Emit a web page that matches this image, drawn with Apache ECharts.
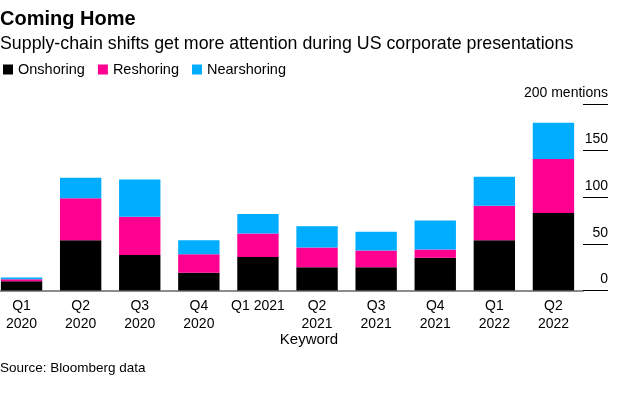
<!DOCTYPE html>
<html>
<head>
<meta charset="utf-8">
<script src="https://cdn.jsdelivr.net/npm/echarts@6/dist/echarts.min.js"></script>
<style>
  html, body { margin: 0; padding: 0; background: #fff; }
  #chart { width: 620px; height: 398px; }
</style>
</head>
<body>
<div id="chart"></div>
<script>
// quarters (label text, two lines except Q1 2021)
const quarters = ["Q1\n2020", "Q2\n2020", "Q3\n2020", "Q4\n2020", "Q1 2021",
  "Q2\n2021", "Q3\n2021", "Q4\n2021", "Q1\n2022", "Q2\n2022"];
// mentions per keyword
const onshoring = [10, 54, 38, 19, 36, 25, 25, 35, 54, 83];
const reshoring = [2, 45, 41, 20, 25, 21, 18, 9, 37, 58];
const nearshoring = [2, 22, 40, 15, 21, 23, 20, 31, 31, 39];
const yTicks = [0, 50, 100, 150, 200];

const font = "Liberation Sans";
const colors = { Onshoring: "#000000", Reshoring: "#ff0090", Nearshoring: "#00adff" };

let myChart = echarts.init(document.getElementById("chart"));

function bar(name, data) {
  return {
    name: name,
    type: "bar",
    stack: "total",
    data: data,
    barCategoryGap: "30%",
    itemStyle: { color: colors[name] },
    emphasis: { disabled: true },
  };
}

function txt(size, weight) {
  return { fontSize: size, fontWeight: weight, color: "#000", fontFamily: font };
}

let option = {
  animation: false,
  textStyle: { fontFamily: font },
  title: [
    { text: "Coming Home", left: 0, top: 9, padding: 0, textStyle: txt(20, "bold") },
    {
      text: "Supply-chain shifts get more attention during US corporate presentations",
      left: 0, top: 35, padding: 0, textStyle: txt(17.8, "normal"),
    },
    { text: "Keyword", left: 309, top: 332, padding: 0, textAlign: "center", textStyle: txt(15, "normal") },
    { text: "Source: Bloomberg data", left: 0, top: 361, padding: 0, textStyle: txt(13.5, "normal") },
  ],
  legend: {
    left: 3,
    top: 62,
    padding: 0,
    icon: "rect",
    itemWidth: 10,
    itemHeight: 10,
    itemGap: 13,
    selectedMode: false,
    textStyle: { fontSize: 14.5, color: "#000", fontFamily: font },
    data: ["Onshoring", "Reshoring", "Nearshoring"],
  },
  grid: {
    left: -8,
    right: 37,
    top: 104,
    bottom: 107.5,
    outerBoundsMode: "none",
    containLabel: false,
  },
  xAxis: {
    type: "category",
    data: quarters,
    axisLine: { show: true, lineStyle: { color: "#8c8c8c", width: 2 } },
    axisTick: { show: false },
    axisLabel: {
      fontSize: 14,
      lineHeight: 18,
      color: "#000",
      margin: 7,
      interval: 0,
      fontFamily: font,
    },
  },
  yAxis: {
    type: "value",
    position: "right",
    min: 0,
    max: 200,
    interval: 50,
    axisLine: { show: false },
    axisTick: { show: true, length: 25, lineStyle: { color: "#000", width: 1 } },
    splitLine: { show: false },
    axisLabel: {
      margin: 25,
      align: "right",
      verticalAlign: "bottom",
      padding: [0, 0, 4, 0],
      fontSize: 14,
      color: "#000",
      fontFamily: font,
      formatter: (v) => (v === yTicks[yTicks.length - 1] ? v + " mentions" : String(v)),
    },
  },
  series: [
    bar("Onshoring", onshoring),
    bar("Reshoring", reshoring),
    bar("Nearshoring", nearshoring),
  ],
};

myChart.setOption(option);
</script>
</body>
</html>
